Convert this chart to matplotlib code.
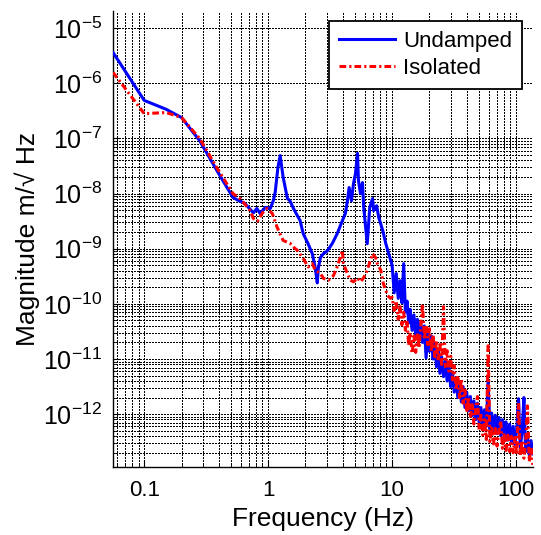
import numpy as np
import matplotlib
matplotlib.use("Agg")
import matplotlib.pyplot as plt
from matplotlib.ticker import FixedLocator, NullFormatter, FuncFormatter
from matplotlib.lines import Line2D

plt.rcParams['font.family'] = ['Liberation Sans', 'DejaVu Sans']
plt.rcParams['mathtext.fontset'] = 'custom'
plt.rcParams['mathtext.rm'] = 'Liberation Sans'
plt.rcParams['mathtext.it'] = 'Liberation Sans'

# ---------------- data (log10 of magnitude) -------------
freq_undamped_lf = [0.056, 0.1, 0.15, 0.2, 0.28, 0.39, 0.52, 0.56, 0.65, 0.76, 0.81,
                    0.86, 0.95, 1.04, 1.1, 1.14, 1.2, 1.25, 1.32, 1.43, 1.5, 1.6,
                    1.81, 1.92, 2.1, 2.27, 2.4, 2.49, 2.54, 2.64, 2.79, 3.0, 3.3,
                    3.6, 3.97, 4.2, 4.36, 4.5, 4.7, 4.88, 5.06, 5.26, 5.35, 5.56,
                    5.77, 5.9, 6.3, 6.6, 6.95, 7.1, 7.5, 7.8, 8.4, 8.9, 9.4]
undamped_lf_log10 = [-5.44, -6.31, -6.47, -6.62, -7.04, -7.60, -8.07, -8.11, -8.18, -8.35, -8.27,
                     -8.36, -8.25, -8.27, -8.13, -7.97, -7.52, -7.31, -7.70, -8.09, -8.13, -8.27,
                     -8.49, -8.73, -8.91, -9.09, -9.35, -9.62, -9.35, -9.16, -9.09, -9.04, -8.90,
                     -8.73, -8.49, -8.36, -8.13, -7.89, -8.13, -7.82, -7.64, -7.27, -7.76, -8.00,
                     -7.80, -8.25, -8.91, -8.25, -8.09, -8.31, -8.22, -8.43, -8.67, -8.91, -9.09]

freq_isolated_lf = [0.056, 0.1, 0.15, 0.2, 0.28, 0.39, 0.52, 0.6, 0.71, 0.76, 0.82,
                    0.9, 0.98, 1.08, 1.18, 1.32, 1.5, 1.6, 1.72, 1.92, 2.1, 2.27,
                    2.4, 2.64, 2.8, 3.06, 3.36, 3.6, 3.83, 3.97, 4.05, 4.36, 4.6,
                    4.88, 5.25, 5.56, 5.88, 6.3, 6.7, 6.95, 7.35, 7.6, 8.1, 8.5,
                    9.2, 9.7]
isolated_lf_log10 = [-5.80, -6.55, -6.53, -6.62, -7.00, -7.55, -8.00, -8.10, -8.30, -8.45, -8.50,
                     -8.35, -8.27, -8.36, -8.61, -8.85, -8.90, -8.97, -9.03, -9.18, -9.33, -9.27,
                     -9.39, -9.45, -9.54, -9.57, -9.49, -9.33, -9.15, -9.03, -9.27, -9.45, -9.57,
                     -9.60, -9.53, -9.60, -9.53, -9.39, -9.20, -9.09, -9.16, -9.27, -9.39, -9.63,
                     -9.85, -9.90]

freq_hf = [10.0, 10.4, 10.8, 11.2, 11.6, 12.0, 12.4, 12.8, 13.2, 13.6,
           14.0, 14.5, 15.0, 15.5, 16.0, 16.5, 17.0, 17.6, 18.2, 18.8,
           19.4, 20.0, 20.7, 21.4, 22.1, 22.8, 23.5, 24.3, 25.1, 26.0,
           26.9, 27.8, 28.7, 29.7, 30.7, 31.7, 32.8, 33.9, 35.0, 36.2,
           37.4, 38.7, 40.0, 41.4, 42.8, 44.2, 45.7, 47.2, 48.8, 50.4,
           52.1, 53.9, 55.7, 57.6, 59.5, 61.5, 63.6, 65.8, 68.0, 70.3,
           72.7, 75.2, 77.7, 80.3, 83.0, 85.8, 88.7, 91.7, 94.8, 98.0,
           101.3, 104.7, 108.2, 111.9, 115.7, 119.6, 123.6, 127.8, 132.1, 136.5]
undamped_hf_log10 = [-9.30, -9.80, -9.45, -9.90, -9.58, -9.98, -9.27, -10.15, -9.95, -10.35,
                     -10.10, -10.48, -10.20, -10.58, -10.28, -10.64, -10.34, -10.70, -10.40, -10.98,
                     -10.48, -10.86, -10.58, -11.00, -10.72, -11.14, -10.86, -11.26, -10.96, -11.32,
                     -11.04, -11.40, -11.12, -11.50, -11.24, -11.60, -11.34, -11.70, -11.42, -11.78,
                     -11.50, -11.88, -11.60, -11.94, -11.68, -12.03, -11.76, -12.10, -11.80, -12.15,
                     -11.88, -12.20, -11.92, -12.22, -11.40, -12.27, -11.98, -12.31, -12.02, -12.35,
                     -12.06, -12.39, -12.10, -12.43, -12.14, -12.47, -12.18, -12.51, -12.22, -12.55,
                     -12.27, -11.72, -12.60, -12.33, -11.70, -12.68, -12.40, -12.74, -12.48, -12.72]
isolated_hf_log10 = [-9.88, -10.12, -9.95, -10.28, -10.05, -10.38, -10.15, -10.48, -10.30, -10.75,
                     -10.52, -10.90, -10.58, -10.88, -10.52, -10.80, -10.42, -10.00, -10.65, -10.38,
                     -10.74, -10.45, -10.86, -10.56, -10.96, -10.66, -11.04, -10.74, -11.10, -10.05,
                     -11.14, -10.85, -11.22, -10.95, -11.38, -11.12, -11.56, -11.30, -11.70, -11.36,
                     -11.80, -11.56, -11.97, -11.70, -12.07, -11.80, -12.18, -11.92, -11.68, -12.28,
                     -12.02, -12.38, -12.10, -12.46, -10.76, -12.50, -12.22, -12.54, -12.26, -12.58,
                     -12.30, -12.12, -12.62, -12.34, -12.66, -12.38, -12.68, -12.40, -12.70, -12.42,
                     -12.74, -11.80, -12.76, -12.48, -12.80, -12.52, -11.85, -12.86, -12.60, -12.92]

series_labels = ["Undamped", "Isolated"]
x_tick_values = [0.1, 1, 10, 100]
x_tick_labels = ["0.1", "1", "10", "100"]
y_tick_exponents = [-12, -11, -10, -9, -8, -7, -6, -5]

# ---------------- figure -------------------------------------------------------
W, H = 541, 535
fig = plt.figure(figsize=(W / 100, H / 100), dpi=100)
ax = fig.add_axes([113 / W, 1 - 467 / H, (533 - 113) / W, (467 - 11) / H])

f_u = np.array(freq_undamped_lf + freq_hf)
m_u = 10.0 ** np.array(undamped_lf_log10 + undamped_hf_log10)
f_i = np.array(freq_isolated_lf + freq_hf)
m_i = 10.0 ** np.array(isolated_lf_log10 + isolated_hf_log10)

ax.loglog(f_u, m_u, color='#0000ff', lw=2.2, zorder=3)
ax.loglog(f_i, m_i, color='#ff0000', lw=2.2, dashes=(2.2, 1.0, 0.7, 1.0), zorder=4)

ax.set_xlim(0.056, 137)
ax.set_ylim(1.1e-13, 2.05e-5)

ax.xaxis.set_major_locator(FixedLocator(x_tick_values))
ax.xaxis.set_major_formatter(FuncFormatter(
    lambda v, p: x_tick_labels[p] if p is not None and p < len(x_tick_labels) else ""))
xminor = [m * 10.0 ** k for k in (-2, -1, 0, 1) for m in range(2, 10)]
ax.xaxis.set_minor_locator(FixedLocator(xminor))
ax.xaxis.set_minor_formatter(NullFormatter())

yt = [10.0 ** e for e in y_tick_exponents]
ax.yaxis.set_major_locator(FixedLocator(yt))
ax.yaxis.set_major_formatter(FuncFormatter(
    lambda v, p: r'$\mathregular{10^{%d}}$' % int(round(np.log10(v)))))
yminor = [m * 10.0 ** k for k in range(-13, -7) for m in range(2, 10)]
ax.yaxis.set_minor_locator(FixedLocator(yminor))
ax.yaxis.set_minor_formatter(NullFormatter())

ax.set_axisbelow(True)
grid_kw = dict(linestyle=(0, (1.0, 1.3)), color='black', linewidth=1.0, antialiased=False)
ax.grid(True, which='major', **grid_kw)
ax.grid(True, which='minor', **grid_kw)

for s in ('top', 'right'):
    ax.spines[s].set_visible(False)
for s in ('left', 'bottom'):
    ax.spines[s].set_linewidth(1.0)

ax.tick_params(which='both', direction='in', top=False, right=False)
ax.tick_params(which='major', length=5, pad=9)
ax.tick_params(axis='x', which='major', labelsize=16)
ax.tick_params(axis='y', which='major', labelsize=18, pad=8)
ax.tick_params(which='minor', length=3)

ax.set_xlabel("Frequency (Hz)", fontsize=19, labelpad=5)
ax.set_ylabel("Magnitude m/\u221a Hz", fontsize=19, labelpad=2)

handles = [Line2D([], [], color='#0000ff', lw=2.2),
           Line2D([], [], color='#ff0000', lw=2.2, dashes=(2.2, 1.0, 0.7, 1.0))]
leg = ax.legend(handles, series_labels, loc='upper right',
                bbox_to_anchor=(522 / W, 1 - 21 / H), bbox_transform=fig.transFigure,
                frameon=True, fancybox=False, edgecolor='black', framealpha=1,
                fontsize=16, handlelength=2.55, handletextpad=0.35,
                borderpad=0.45, labelspacing=0.25, borderaxespad=0)
leg.get_frame().set_linewidth(1.3)

fig.savefig("out.png", dpi=100)
